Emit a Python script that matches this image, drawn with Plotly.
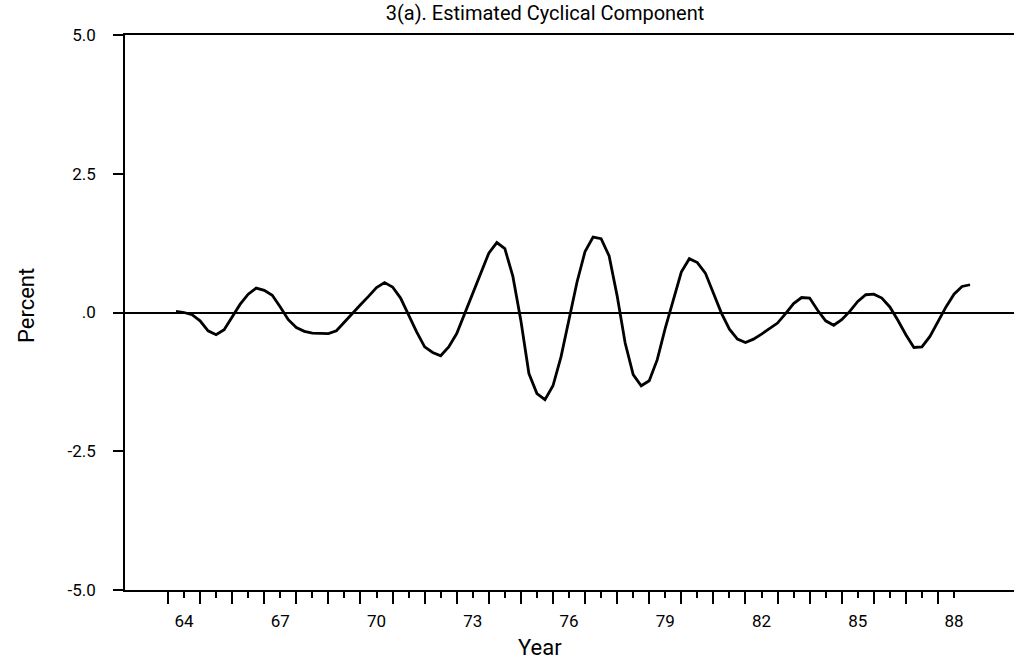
import plotly.graph_objects as go

# Quarterly estimated cyclical component (percent), 1964Q2 .. 1989Q1
years = [1964.25 + 0.25 * i for i in range(100)]
values = [
    0.02, 0.00, -0.04, -0.15, -0.33, -0.40, -0.31, -0.08, 0.15, 0.33,
    0.44, 0.40, 0.31, 0.10, -0.13, -0.27, -0.34, -0.37, -0.38, -0.38,
    -0.33, -0.17, 0.00, 0.14, 0.29, 0.45, 0.54, 0.46, 0.26, -0.05,
    -0.35, -0.62, -0.72, -0.78, -0.62, -0.38, -0.01, 0.34, 0.72, 1.07,
    1.26, 1.15, 0.65, -0.15, -1.10, -1.46, -1.57, -1.32, -0.80, -0.15,
    0.55, 1.10, 1.36, 1.33, 1.02, 0.30, -0.55, -1.12, -1.32, -1.23,
    -0.85, -0.28, 0.25, 0.73, 0.97, 0.90, 0.71, 0.36, -0.01, -0.30,
    -0.48, -0.54, -0.48, -0.39, -0.29, -0.19, -0.02, 0.16, 0.27, 0.26,
    0.04, -0.15, -0.23, -0.13, 0.02, 0.20, 0.32, 0.33, 0.26, 0.10,
    -0.14, -0.40, -0.63, -0.62, -0.43, -0.17, 0.10, 0.33, 0.47, 0.50,
]

y_tickvals = [-5.0, -2.5, 0.0, 2.5, 5.0]
y_ticktext = ["-5.0", "-2.5", ".0", "2.5", "5.0"]

year_ticks = list(range(1964, 1989))
half_ticks = [y + 0.5 for y in range(1964, 1989)]
half_text = [str(int(v) % 100) if (int(v) - 1964) % 3 == 0 else "" for v in half_ticks]

FONT = "Roboto"

fig = go.Figure()
fig.add_trace(go.Scatter(
    x=years, y=values, mode="lines",
    line=dict(color="black", width=2.8),
    showlegend=False, hoverinfo="skip",
))

fig.update_layout(
    width=1014, height=668,
    margin=dict(l=125, r=0, t=35, b=78),
    paper_bgcolor="white", plot_bgcolor="white",
    title=dict(
        text="3(a). Estimated Cyclical Component",
        x=545 / 1014, xanchor="center", y=1 - 13 / 668, yanchor="middle",
        font=dict(family=FONT, size=20, color="black"),
    ),
    font=dict(family=FONT, color="black"),
    annotations=[
        dict(text="Year", xref="paper", yref="paper",
             x=(540 - 125) / 889, y=-(647 - 590) / 555,
             xanchor="center", yanchor="middle", showarrow=False,
             font=dict(family=FONT, size=22, color="black")),
        dict(text="Percent", xref="paper", yref="paper",
             x=-(125 - 26) / 889, y=(590 - 306) / 555,
             xanchor="center", yanchor="middle", showarrow=False, textangle=-90,
             font=dict(family=FONT, size=22, color="black")),
    ],
)

fig.update_xaxes(
    range=[1962.66, 1990.37],
    showgrid=False, zeroline=False,
    showline=True, linecolor="black", linewidth=1.5, mirror=True,
    tickmode="array", tickvals=half_ticks, ticktext=half_text,
    ticks="outside", ticklen=6, tickwidth=1.5, tickcolor="black",
    ticklabelstandoff=9,
    tickfont=dict(family=FONT, size=17, color="black"),
    minor=dict(tickmode="array", tickvals=year_ticks, ticks="outside",
               ticklen=12, tickwidth=1.5, tickcolor="black", showgrid=False),
)

fig.update_yaxes(
    range=[-5, 5],
    showgrid=False,
    zeroline=True, zerolinecolor="black", zerolinewidth=1.5,
    showline=True, linecolor="black", linewidth=1.5, mirror=False,
    tickmode="array", tickvals=y_tickvals, ticktext=y_ticktext,
    ticks="outside", ticklen=10, tickwidth=1.5, tickcolor="black",
    ticklabelstandoff=14,
    tickfont=dict(family=FONT, size=17, color="black"),
)

fig.write_html("out.html")
